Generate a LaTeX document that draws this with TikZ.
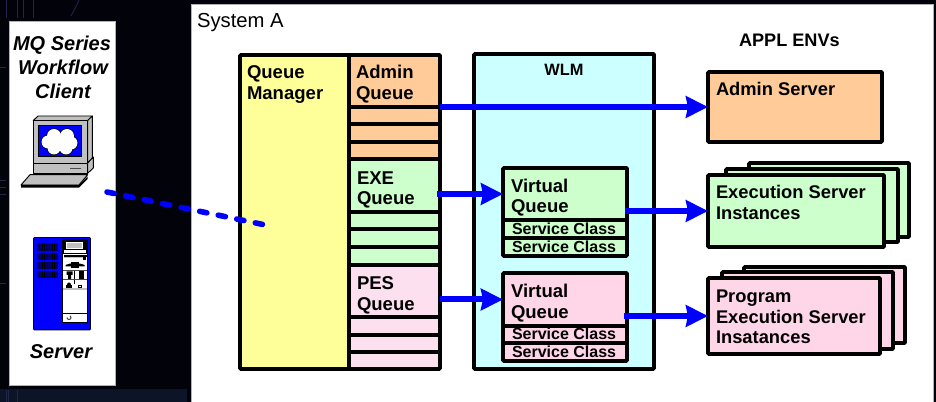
\documentclass[tikz,border=0pt]{standalone}
\usepackage{fontspec}
\setmainfont{Liberation Sans}
\usetikzlibrary{arrows.meta}
\definecolor{bgdark}{HTML}{02020A}
\definecolor{bgnavy}{HTML}{0C1428}
\definecolor{bgline}{HTML}{1E2748}
\definecolor{qyellow}{HTML}{FFFF99}
\definecolor{qorange}{HTML}{FFCC99}
\definecolor{qgreen}{HTML}{CCFFCC}
\definecolor{qpink}{HTML}{FDE0F0}
\definecolor{vpink}{HTML}{FFD6E8}
\definecolor{wlmcyan}{HTML}{CCFFFF}
\definecolor{linkblue}{HTML}{0000FF}
\definecolor{icongray}{HTML}{C0C0C0}
\definecolor{grilleblue}{HTML}{000070}
\tikzset{
  x=0.75pt,y=-0.75pt,
  cell/.style={draw=black,line width=2.7pt,rounded corners=0.6pt,inner sep=0pt,outer sep=0pt},
  panel/.style={draw=black!30,line width=0.6pt,fill=white,inner sep=0pt,outer sep=0pt},
  txt/.style={inner sep=0pt,outer sep=0pt,yshift=-1pt},
  txtb/.style={inner sep=0pt,outer sep=0pt,yshift=-0.3pt},
  lbl/.style={txt,anchor=base west,font=\bfseries\fontsize{13.9pt}{15pt}\selectfont},
  lblvq/.style={txtb,anchor=base west,font=\bfseries\fontsize{13.9pt}{15pt}\selectfont},
  lblsrv/.style={txtb,anchor=base west,font=\bfseries\fontsize{13.75pt}{15pt}\selectfont},
  lblsmall/.style={txtb,anchor=base west,font=\bfseries\fontsize{12pt}{13pt}\selectfont},
  lblital/.style={txt,anchor=base,font=\bfseries\itshape\fontsize{15pt}{16pt}\selectfont},
  link/.style={draw=linkblue,line width=4.5pt,-{Stealth[length=16.5pt,width=16pt,inset=1.5pt]}},
  dashedlink/.style={draw=linkblue,line width=4.2pt,line cap=round,dash pattern=on 5.5pt off 8.7pt},
  iconline/.style={draw=black,line width=0.7pt,fill=icongray,line join=round},
}
\newcommand{\bx}[6]{%
  \pgfmathsetmacro{\bxw}{(#4-#2)*0.75}%
  \pgfmathsetmacro{\bxh}{(#5-#3)*0.75}%
  \node[minimum width=\bxw pt,minimum height=\bxh pt,#6] (#1) at ({(#2+#4)/2},{(#3+#5)/2}) {};%
}
\begin{document}
\begin{tikzpicture}
\useasboundingbox (0,0) rectangle (936,402);
% background
\fill[bgdark] (0,0) rectangle (936,402);
\fill[bgnavy] (0,389) rectangle (187,402);
\foreach \xa in {6,17,23,33} \draw[bgline,line width=0.6pt] (\xa,0) -- (\xa,18);
\draw[bgline,line width=0.6pt] (71,16) .. controls (74,10) and (77,5) .. (79,0);
\foreach \xa in {6,8,17} \draw[bgline,line width=0.7pt] (\xa,390) -- (\xa,402);
\foreach \ya in {67,180,187,194,283} \draw[bgline,line width=0.5pt] (0,\ya) -- (6,\ya);
% panels
\bx{client}{9}{21}{115}{385}{panel}
\bx{system}{191}{4}{933}{420}{panel}
\node[txtb,anchor=base west,font=\fontsize{15.2pt}{16pt}\selectfont] (systemlbl) at (197,27) {System A};
\node[lblital] (cl1) at (62,49) {MQ Series};
\node[lblital] (cl2) at (63,73) {Workflow};
\node[lblital] (cl3) at (63,97) {Client};
\node[lblital] (cl4) at (61,357) {Server};
% computer icon
\path[iconline] (33.3,120.5) -- (38,116) -- (92.3,116) -- (87.7,120.5) -- cycle;
\path[iconline] (87.7,120.5) -- (92.3,116) -- (92.3,158) -- (87.7,163) -- cycle;
\path[iconline] (33.3,120.5) rectangle (87.7,163);
\fill[linkblue,draw=black,line width=0.5pt] (38.3,125) rectangle (81.7,156.7);
\begin{scope}
  \foreach \cx/\cy/\cr in {48/142/6.5,54/136/7,67/136/7,71/143/6.5,66/148/6.5,54/148/6.5}
    \draw[black,line width=1.1pt] (\cx,\cy) circle[radius=\cr];
  \foreach \cx/\cy/\cr in {48/142/6.5,54/136/7,67/136/7,71/143/6.5,66/148/6.5,54/148/6.5,60/142/8}
    \fill[white] (\cx,\cy) circle[radius=\cr];
\end{scope}
\path[iconline] (87.7,163) -- (93.3,157) -- (93.3,168) -- (87.7,173.3) -- cycle;
\path[iconline] (33.3,163) rectangle (87.7,173.3);
\draw[black!70,line width=0.8pt] (70,168.5) -- (81,168.5);
\path[iconline] (21,185) -- (30,174.7) -- (87.7,174.7) -- (79,185) -- cycle;
\fill[black] (21,185) -- (79,185) -- (87.7,176.5) -- (87.7,179) -- (79,187.7) -- (21,187.7) -- cycle;
% server icon
\fill[linkblue,draw=black,line width=0.7pt,rounded corners=0.8pt] (33.5,237.5) rectangle (90.5,330);
\draw[black,line width=0.9pt,fill=white] (62.5,239.5) rectangle (87.2,322.5);
\foreach \ya/\yb in {243.3/250.7,252.7/260,261.7/269,271/278.3} {
  \fill[grilleblue] (37.3,\ya) rectangle (58,\yb);
  \foreach \xa in {39.5,42,44.5,47,49.5,52,54.5,57} \draw[black,line width=0.3pt] (\xa,\ya) -- (\xa,\yb);
}
\fill[black] (63,240) rectangle (86.5,254);
\fill[icongray,draw=white,line width=0.5pt] (66.5,242.5) rectangle (82.5,248.5);
\fill[white] (64,250.5) rectangle (85.5,253.5);
\fill[black] (64,255.5) rectangle (86.5,257);
\fill[icongray] (64,257) rectangle (84,258.5);
\fill[black] (83,257) rectangle (86,260);
\fill[black] (65.5,265) .. controls (70,262.5) and (80,262.5) .. (84.5,265) -- (84.5,266.5) -- (65.5,266.5) -- cycle;
\fill[black] (71,262.5) rectangle (79,268.5);
\fill[black!70] (63,270) rectangle (86.5,271);
\fill[black] (66.5,271.5) rectangle (72.5,275) (68,275) rectangle (71,279);
\fill[black] (78.5,271.5) rectangle (84,279);
\draw[black,line width=0.4pt] (74.5,271) -- (74.5,284);
\fill[black!70] (63,279.5) rectangle (86.5,280.5);
\fill[black] (69,284.5) circle[radius=2];
\fill[black] (66,285) rectangle (72,288);
\draw[black,line width=0.6pt] (78.5,285) rectangle (81.5,287.5);
\fill[icongray] (63,288) rectangle (86.5,290);
\draw[black,line width=0.9pt] (62.5,313.5) -- (87.2,313.5);
\draw[black!70,line width=0.8pt] (67,317.5) arc[start angle=180,end angle=-60,radius=2];
% queue manager
\bx{qm}{240}{55}{349}{369}{cell,fill=qyellow}
\bx{adminq}{349}{55}{440}{107}{cell,fill=qorange}
\bx{adminr1}{349}{107}{440}{124}{cell,fill=qorange}
\bx{adminr2}{349}{124}{440}{142}{cell,fill=qorange}
\bx{adminr3}{349}{142}{440}{159}{cell,fill=qorange}
\bx{exeq}{349}{159}{440}{212}{cell,fill=qgreen}
\bx{exer1}{349}{212}{440}{229}{cell,fill=qgreen}
\bx{exer2}{349}{229}{440}{247}{cell,fill=qgreen}
\bx{exer3}{349}{247}{440}{265}{cell,fill=qgreen}
\bx{pesq}{349}{265}{440}{317}{cell,fill=qpink}
\bx{pesr1}{349}{317}{440}{335}{cell,fill=qpink}
\bx{pesr2}{349}{335}{440}{352}{cell,fill=qpink}
\bx{pesr3}{349}{352}{440}{369}{cell,fill=qpink}
\node[lbl] (qm1) at (247,77) {Queue};
\node[lbl] (qm2) at (247,98) {Manager};
\node[lbl] (aq1) at (356,77) {Admin};
\node[lbl] (aq2) at (356,98) {Queue};
\node[lbl] (eq1) at (357,183) {EXE};
\node[lbl] (eq2) at (357,203) {Queue};
\node[lbl] (pq1) at (357,288) {PES};
\node[lbl] (pq2) at (357,309) {Queue};
% WLM
\bx{wlm}{474}{54}{654}{369}{cell,fill=wlmcyan}
\node[txtb,anchor=base,font=\bfseries\fontsize{12.3pt}{13pt}\selectfont] (wlmlbl) at (564,75) {WLM};
\bx{vqa}{503}{168}{627}{220}{cell,fill=qgreen}
\bx{vqas1}{503}{220}{627}{238}{cell,fill=qgreen}
\bx{vqas2}{503}{238}{627}{256}{cell,fill=qgreen}
\bx{vqb}{503}{273}{627}{326}{cell,fill=vpink}
\bx{vqbs1}{503}{326}{627}{343}{cell,fill=vpink}
\bx{vqbs2}{503}{343}{627}{361}{cell,fill=vpink}
\node[lblvq] (va1) at (511,192) {Virtual};
\node[lblvq] (va2) at (511,212) {Queue};
\node[lblsmall] (vas1) at (512,234) {Service Class};
\node[lblsmall] (vas2) at (512,252) {Service Class};
\node[lblvq] (vb1) at (511,297) {Virtual};
\node[lblvq] (vb2) at (511,318) {Queue};
\node[lblsmall] (vbs1) at (512,339) {Service Class};
\node[lblsmall] (vbs2) at (512,357) {Service Class};
% application environments
\node[txtb,anchor=base west,font=\bfseries\fontsize{13.6pt}{15pt}\selectfont] (applbl) at (739,46) {APPL ENVs};
\bx{adminsrv}{708}{72}{882}{142}{cell,fill=qorange}
\bx{execc}{749}{163}{909}{237}{cell,fill=qgreen}
\bx{execb}{726}{169}{898}{242}{cell,fill=qgreen}
\bx{execa}{708}{175}{884}{247}{cell,fill=qgreen}
\bx{pesc}{744}{267}{905}{343}{cell,fill=vpink}
\bx{pesb}{722}{272}{893}{349}{cell,fill=vpink}
\bx{pesa}{708}{278}{880}{354}{cell,fill=vpink}
\node[lblsrv] (as1) at (716,95) {Admin Server};
\node[lblsrv] (es1) at (716,198) {Execution Server};
\node[lblsrv] (es2) at (716,219) {Instances};
\node[lblsrv] (ps1) at (716,302) {Program};
\node[lblsrv] (ps2) at (716,323) {Execution Server};
\node[lblsrv] (ps3) at (716,343) {Insatances};
% connectors
\draw[link] (adminq.south east) -- (adminsrv.west);
\draw[link] ([xshift=-2.2pt]exeq.east |- vqa.west) -- (vqa.west);
\draw[link] (pesq.east |- vqb.west) -- (vqb.west);
\draw[link] ([xshift=-1.5pt]vqa.east |- execa.west) -- (execa.west);
\draw[link] ([xshift=-2.2pt]vqb.east |- pesa.west) -- (pesa.west);
\coordinate (dashstart) at (107,192);
\coordinate (dashend) at (263,224.5);
\draw[dashedlink] (dashstart) -- (dashend);
\end{tikzpicture}
\end{document}
